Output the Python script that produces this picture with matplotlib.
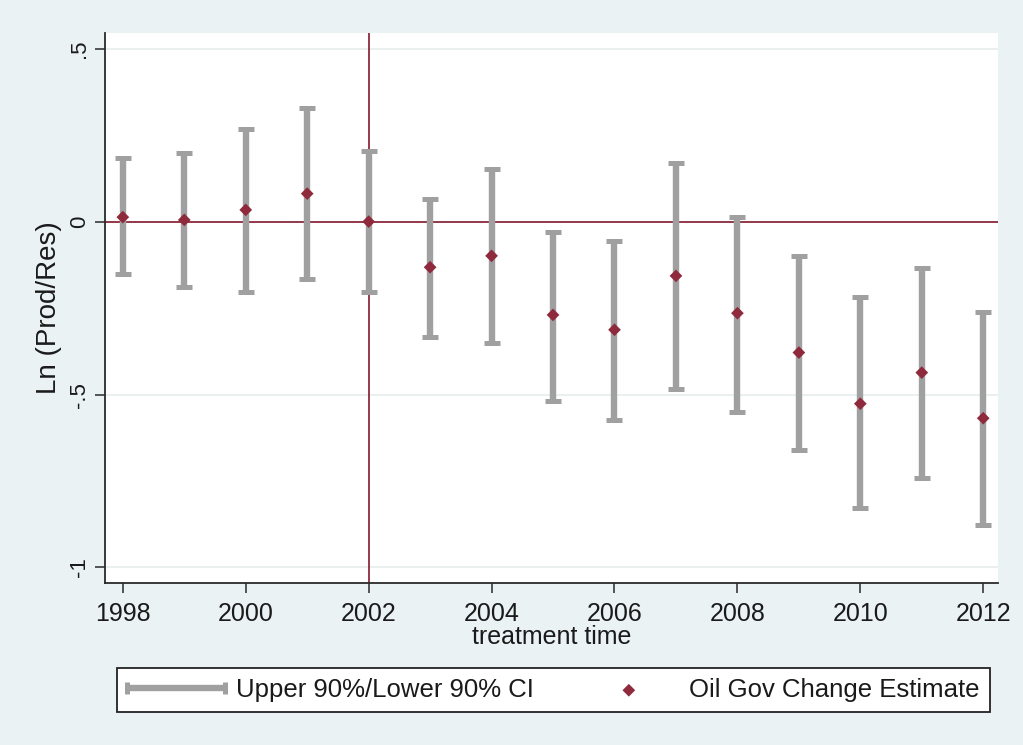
import matplotlib
matplotlib.use('Agg')
import matplotlib.pyplot as plt
from matplotlib.lines import Line2D
from matplotlib.legend_handler import HandlerLine2D

plt.rcParams['font.family'] = ['Liberation Sans', 'DejaVu Sans']

# Datos
anios = list(range(1998, 2013))
estimacion = [0.014, 0.006, 0.035, 0.082, 0.001, -0.131, -0.098, -0.269,
              -0.312, -0.156, -0.264, -0.378, -0.526, -0.436, -0.568]
ic_superior = [0.185, 0.200, 0.268, 0.329, 0.205, 0.066, 0.152, -0.028,
               -0.056, 0.171, 0.015, -0.098, -0.217, -0.132, -0.260]
ic_inferior = [-0.150, -0.188, -0.203, -0.166, -0.203, -0.332, -0.351, -0.517,
               -0.574, -0.484, -0.551, -0.659, -0.829, -0.740, -0.878]

xticks = [1998, 2000, 2002, 2004, 2006, 2008, 2010, 2012]
yticks = [0.5, 0, -0.5, -1]
ytick_labels = ['.5', '0', '-.5', '-1']
anio_tratamiento = 2002

# Colores estilo Stata
FONDO = '#EAF2F3'
GRIS = '#A0A0A0'
GRANATE = '#8E2A3C'
TEXTO = '#1A1A1A'

W, H = 1023, 745
fig = plt.figure(figsize=(W / 100, H / 100), dpi=100, facecolor=FONDO)
ax = fig.add_axes([105 / W, 1 - 583 / H, (998 - 105) / W, (583 - 33) / H])
ax.set_facecolor('white')

# Líneas de referencia
ax.axhline(0, color=GRANATE, lw=1.3, zorder=1.8)
ax.axvline(anio_tratamiento, color=GRANATE, lw=1.3, zorder=1.8)

# Intervalos de confianza (rcap)
err_abajo = [e - l for e, l in zip(estimacion, ic_inferior)]
err_arriba = [u - e for e, u in zip(estimacion, ic_superior)]
ax.errorbar(anios, estimacion, yerr=[err_abajo, err_arriba], fmt='none',
            ecolor=GRIS, elinewidth=4.6, capsize=6, capthick=3.6, zorder=2)

# Estimaciones puntuales
ax.scatter(anios, estimacion, marker='D', s=42, color=GRANATE,
           edgecolors='none', zorder=3, label='Oil Gov Change Estimate')

ax.set_xlim(1997.71, 2012.24)
ax.set_ylim(-1.045, 0.547)

ax.set_xticks(xticks)
ax.set_yticks(yticks)
ax.set_yticklabels(ytick_labels)
ax.grid(axis='y', color='#E6EDED', lw=1.2)

for lado in ['top', 'right']:
    ax.spines[lado].set_visible(False)
for lado in ['left', 'bottom']:
    ax.spines[lado].set_color('#2A2A2A')
    ax.spines[lado].set_linewidth(1.3)

ax.tick_params(axis='x', length=7, width=1.1, colors='#2A2A2A',
               labelsize=18, labelcolor=TEXTO, pad=7)
ax.tick_params(axis='y', length=7, width=1.1, colors='#2A2A2A',
               labelsize=16, labelcolor=TEXTO, pad=4, labelrotation=90)
plt.setp(ax.get_yticklabels(), va='center')

ax.set_xlabel('treatment time', fontsize=18, color=TEXTO, labelpad=-1)
ax.set_ylabel('Ln (Prod/Res)', fontsize=20, color=TEXTO, labelpad=5)

# Leyenda
proxy_ic = Line2D([], [], color=GRIS, lw=4.6, marker='|', markersize=8,
                  markeredgewidth=3.6, solid_capstyle='butt')
handles = [proxy_ic, ax.collections[-1]]
labels = ['Upper 90%/Lower 90% CI', 'Oil Gov Change Estimate']
leg = fig.legend(handles, labels, ncol=2, mode='expand',
                 bbox_to_anchor=(117 / W, 1 - 713 / H, 873 / W, 46 / H),
                 loc='center', borderaxespad=0, fontsize=18.5,
                 handlelength=3.8, handletextpad=0.45, borderpad=0.4,
                 scatterpoints=1, fancybox=False, framealpha=1,
                 edgecolor='#222222',
                 handler_map={proxy_ic: HandlerLine2D(numpoints=2, marker_pad=0)})
leg.get_frame().set_linewidth(1.3)
for t in leg.get_texts():
    t.set_color(TEXTO)

fig.savefig('out.png', dpi=100, facecolor=FONDO)
